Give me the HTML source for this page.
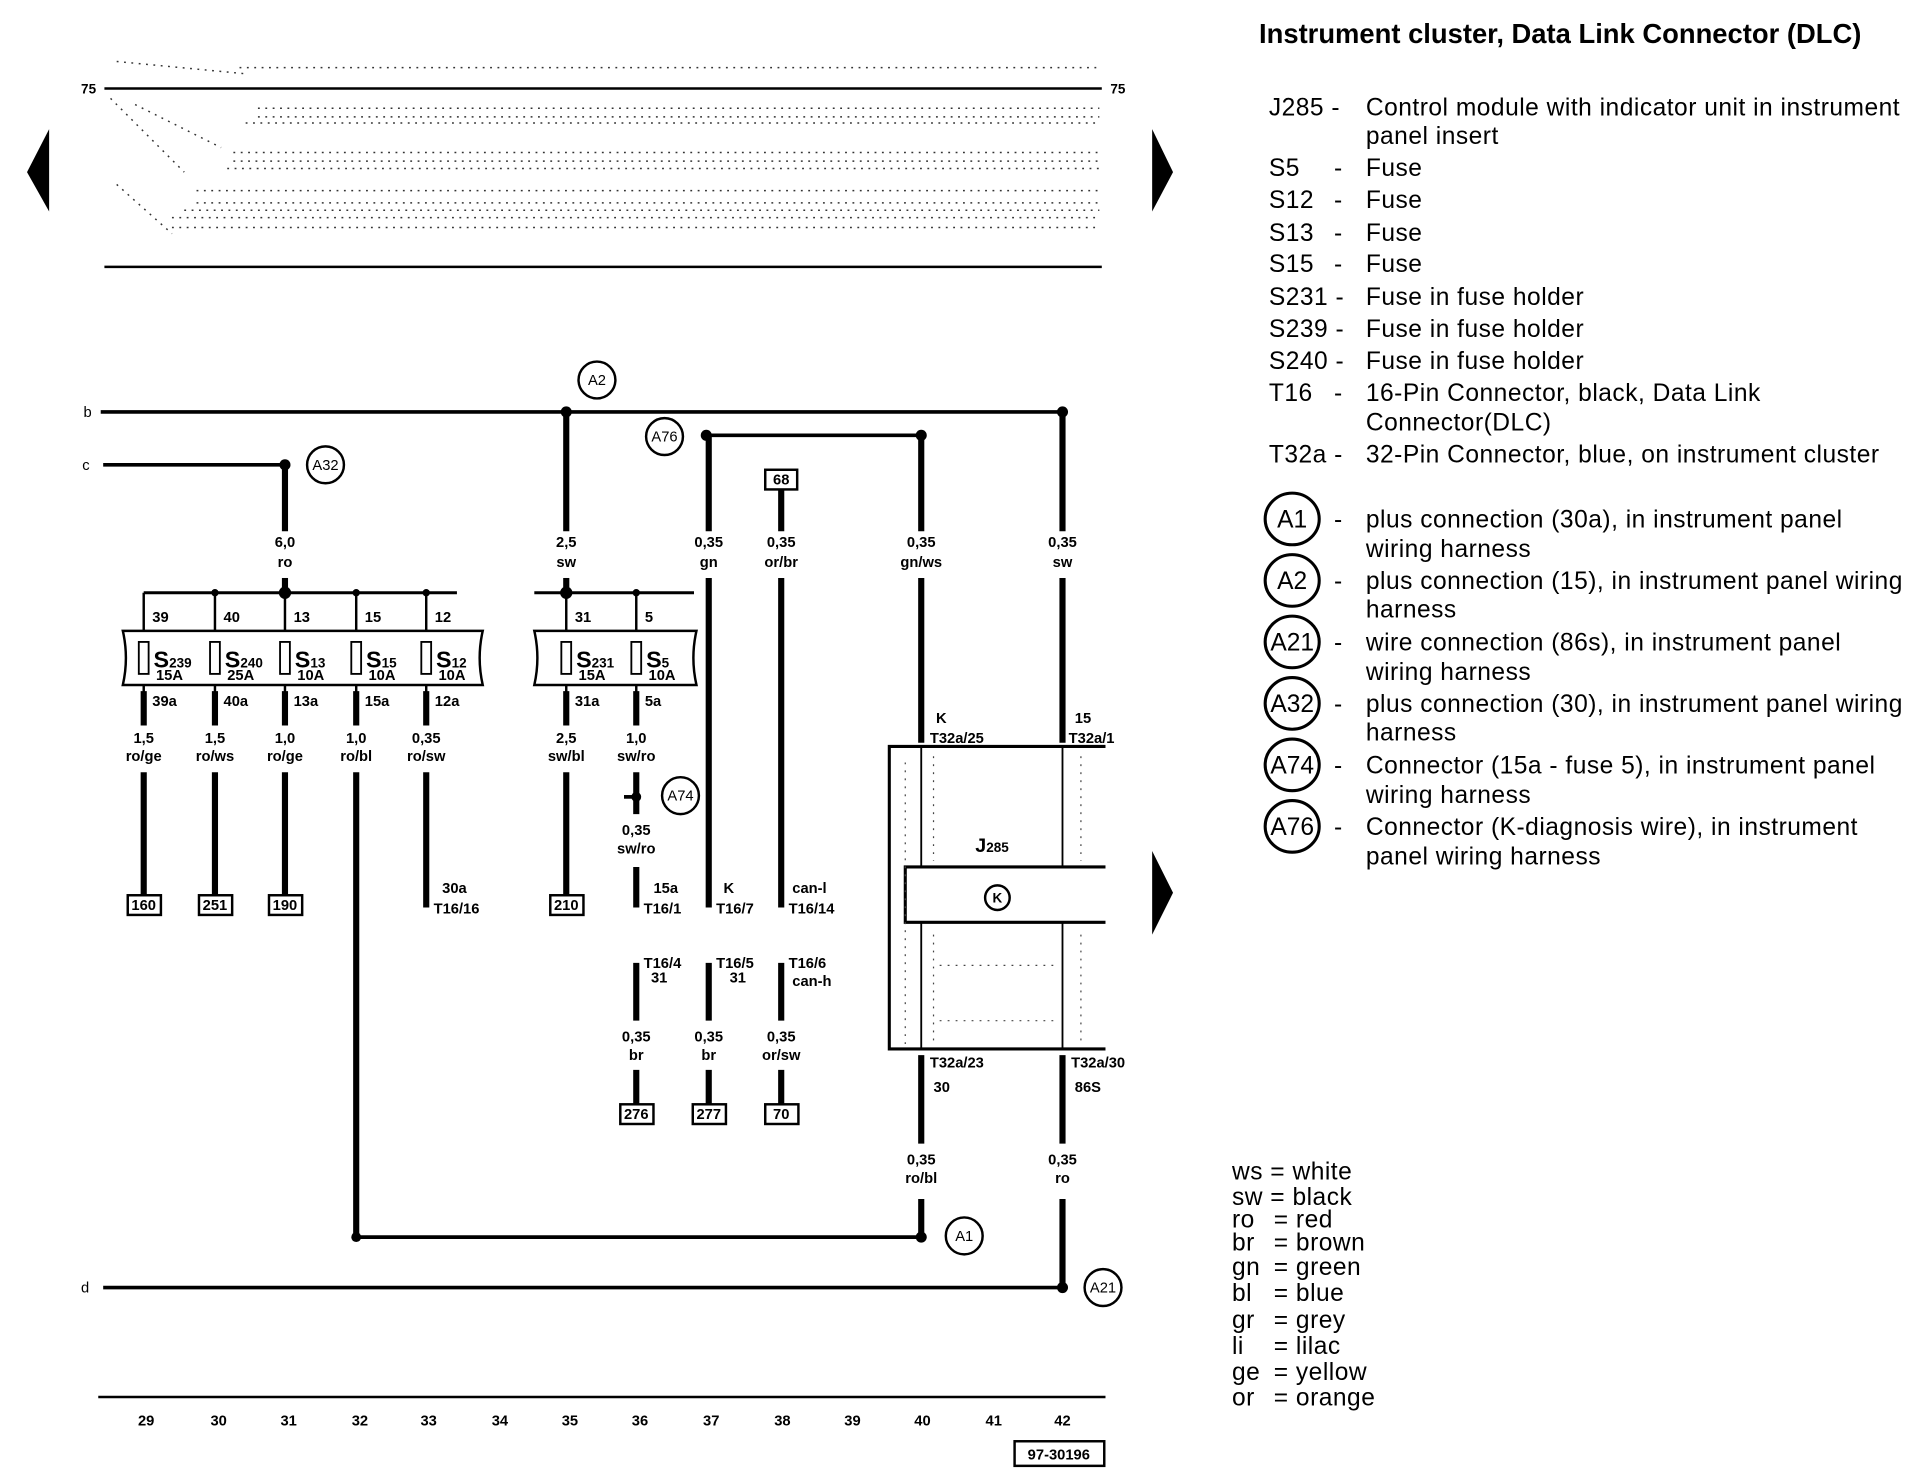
<!DOCTYPE html>
<html><head><meta charset="utf-8"><style>
html,body{margin:0;padding:0;background:#fff;}
svg{display:block;}
.t{font-family:"Liberation Sans",sans-serif;font-size:12px;font-weight:bold;fill:#000;}
.m{text-anchor:middle;}
.L{font-family:"Liberation Sans",sans-serif;font-size:20px;letter-spacing:0.4px;fill:#000;}
.C{font-family:"Liberation Sans",sans-serif;font-size:12px;fill:#000;text-anchor:middle;}
</style></head><body>
<svg width="1926" height="1472" viewBox="0 0 1568 1197" preserveAspectRatio="none" xmlns="http://www.w3.org/2000/svg">
<g stroke="#000" fill="none">
<line x1="85" y1="72" x2="897" y2="72" stroke-width="2"/>
<line x1="85" y1="217" x2="897" y2="217" stroke-width="2"/>
<g stroke-width="1.2" stroke-dasharray="1.5 4.5" stroke="#333">
<line x1="195" y1="55" x2="895" y2="55"/>
<line x1="210" y1="88" x2="895" y2="88"/>
<line x1="210" y1="95" x2="895" y2="95"/>
<line x1="200" y1="100" x2="895" y2="100"/>
<line x1="190" y1="124" x2="895" y2="124"/>
<line x1="190" y1="131" x2="895" y2="131"/>
<line x1="185" y1="137" x2="895" y2="137"/>
<line x1="160" y1="155" x2="895" y2="155"/>
<line x1="160" y1="165" x2="895" y2="165"/>
<line x1="150" y1="171" x2="895" y2="171"/>
<line x1="140" y1="177" x2="895" y2="177"/>
<line x1="140" y1="185" x2="895" y2="185"/>
<line x1="95" y1="50" x2="200" y2="60"/>
<line x1="90" y1="80" x2="150" y2="140"/>
<line x1="110" y1="85" x2="180" y2="120"/>
<line x1="95" y1="150" x2="140" y2="190"/>
</g>
<line x1="82" y1="335" x2="865" y2="335" stroke-width="3"/>
<line x1="84" y1="378" x2="232" y2="378" stroke-width="3"/>
<line x1="84" y1="1047" x2="865" y2="1047" stroke-width="3"/>
<line x1="575" y1="354" x2="750" y2="354" stroke-width="3"/>
<line x1="290" y1="1006" x2="750" y2="1006" stroke-width="3"/>
<line x1="117" y1="482" x2="372" y2="482" stroke-width="2.5"/>
<line x1="435" y1="482" x2="565" y2="482" stroke-width="2.5"/>
<g stroke-width="5">
<line x1="232" y1="378" x2="232" y2="432"/><line x1="232" y1="470" x2="232" y2="482"/>
<line x1="461" y1="335" x2="461" y2="432"/><line x1="461" y1="470" x2="461" y2="482"/>
<line x1="577" y1="354" x2="577" y2="432"/><line x1="577" y1="470" x2="577" y2="738"/>
<line x1="636" y1="398" x2="636" y2="432"/><line x1="636" y1="470" x2="636" y2="738"/>
<line x1="750" y1="354" x2="750" y2="432"/><line x1="750" y1="470" x2="750" y2="604"/>
<line x1="865" y1="335" x2="865" y2="432"/><line x1="865" y1="470" x2="865" y2="604"/>
<line x1="117" y1="562" x2="117" y2="590"/><line x1="117" y1="628" x2="117" y2="728"/>
<line x1="175" y1="562" x2="175" y2="590"/><line x1="175" y1="628" x2="175" y2="728"/>
<line x1="232" y1="562" x2="232" y2="590"/><line x1="232" y1="628" x2="232" y2="728"/>
<line x1="290" y1="562" x2="290" y2="590"/><line x1="290" y1="628" x2="290" y2="1006"/>
<line x1="347" y1="562" x2="347" y2="590"/><line x1="347" y1="628" x2="347" y2="738"/>
<line x1="461" y1="562" x2="461" y2="590"/><line x1="461" y1="628" x2="461" y2="728"/>
<line x1="518" y1="562" x2="518" y2="590"/><line x1="518" y1="628" x2="518" y2="662"/>
<line x1="518" y1="705" x2="518" y2="738"/>
<line x1="518" y1="783" x2="518" y2="830"/><line x1="518" y1="870" x2="518" y2="898"/>
<line x1="577" y1="783" x2="577" y2="830"/><line x1="577" y1="870" x2="577" y2="898"/>
<line x1="636" y1="783" x2="636" y2="830"/><line x1="636" y1="870" x2="636" y2="898"/>
<line x1="750" y1="858" x2="750" y2="930"/><line x1="750" y1="975" x2="750" y2="1006"/>
<line x1="865" y1="858" x2="865" y2="930"/><line x1="865" y1="975" x2="865" y2="1047"/>
</g>
<line x1="508" y1="648" x2="518" y2="648" stroke-width="3"/>
<g stroke-width="2">
<line x1="117" y1="482" x2="117" y2="513"/><line x1="175" y1="482" x2="175" y2="513"/>
<line x1="232" y1="482" x2="232" y2="513"/><line x1="290" y1="482" x2="290" y2="513"/>
<line x1="347" y1="482" x2="347" y2="513"/><line x1="461" y1="482" x2="461" y2="513"/>
<line x1="518" y1="482" x2="518" y2="513"/>
<line x1="117" y1="557" x2="117" y2="565"/><line x1="175" y1="557" x2="175" y2="565"/>
<line x1="232" y1="557" x2="232" y2="565"/><line x1="290" y1="557" x2="290" y2="565"/>
<line x1="347" y1="557" x2="347" y2="565"/><line x1="461" y1="557" x2="461" y2="565"/>
<line x1="518" y1="557" x2="518" y2="565"/>
</g>
<path d="M100 513 H393 Q388 535 393 557 H100 Q105 535 100 513 Z" stroke-width="2"/>
<path d="M435 513 H567 Q562 535 567 557 H435 Q440 535 435 513 Z" stroke-width="2"/>
<g stroke-width="1.5">
<rect x="113" y="522" width="8" height="26"/><rect x="171" y="522" width="8" height="26"/>
<rect x="228" y="522" width="8" height="26"/><rect x="286" y="522" width="8" height="26"/>
<rect x="343" y="522" width="8" height="26"/><rect x="457" y="522" width="8" height="26"/>
<rect x="514" y="522" width="8" height="26"/>
</g>
<path d="M900 607 H724 V853 H900" stroke-width="2.5"/>
<path d="M900 705 H737 V750 H900" stroke-width="2.5"/>
<line x1="750" y1="607" x2="750" y2="705" stroke-width="1.5"/><line x1="865" y1="607" x2="865" y2="705" stroke-width="1.5"/>
<line x1="750" y1="750" x2="750" y2="853" stroke-width="1.5"/><line x1="865" y1="750" x2="865" y2="853" stroke-width="1.5"/>
<circle cx="812" cy="730" r="10" stroke-width="2"/>
<g stroke-width="1" stroke-dasharray="1.5 5" stroke="#444">
<line x1="737" y1="620" x2="737" y2="850"/><line x1="760" y1="615" x2="760" y2="700"/>
<line x1="880" y1="615" x2="880" y2="700"/><line x1="765" y1="785" x2="860" y2="785"/>
<line x1="765" y1="830" x2="860" y2="830"/><line x1="880" y1="760" x2="880" y2="850"/>
<line x1="760" y1="760" x2="760" y2="850"/>
</g>
<g stroke-width="2" fill="#fff">
<rect x="104" y="728" width="27" height="16"/><rect x="162" y="728" width="27" height="16"/>
<rect x="219" y="728" width="27" height="16"/><rect x="448" y="728" width="27" height="16"/>
<rect x="623" y="382" width="26" height="16"/>
<rect x="505" y="898" width="27" height="16"/><rect x="564" y="898" width="27" height="16"/>
<rect x="623" y="898" width="27" height="16"/>
<rect x="826" y="1172" width="73" height="20"/>
</g>
<g stroke-width="2" fill="#fff">
<circle cx="486" cy="309" r="15"/><circle cx="265" cy="378" r="15"/>
<circle cx="541" cy="355" r="15"/><circle cx="554" cy="647" r="15"/>
<circle cx="785" cy="1005" r="15"/><circle cx="898" cy="1047" r="15"/>
</g>
<line x1="80" y1="1136" x2="900" y2="1136" stroke-width="2"/>
<g stroke-width="2.5">
<ellipse cx="1052" cy="422" rx="22" ry="21"/><ellipse cx="1052" cy="472" rx="22" ry="21"/>
<ellipse cx="1052" cy="522" rx="22" ry="21"/><ellipse cx="1052" cy="572" rx="22" ry="21"/>
<ellipse cx="1052" cy="622" rx="22" ry="21"/><ellipse cx="1052" cy="672" rx="22" ry="21"/>
</g>
</g>
<g fill="#000">
<circle cx="461" cy="335" r="4.5"/><circle cx="865" cy="335" r="4.5"/>
<circle cx="232" cy="378" r="4.5"/><circle cx="575" cy="354" r="4.5"/><circle cx="750" cy="354" r="4.5"/>
<circle cx="232" cy="482" r="5"/><circle cx="461" cy="482" r="5"/>
<circle cx="175" cy="482" r="3"/><circle cx="290" cy="482" r="3"/><circle cx="347" cy="482" r="3"/><circle cx="518" cy="482" r="3"/>
<circle cx="518" cy="648" r="4"/>
<circle cx="290" cy="1006" r="4"/><circle cx="750" cy="1006" r="4.5"/><circle cx="865" cy="1047" r="4.5"/>
<polygon points="22,140 40,105 40,172"/>
<polygon points="955,140 938,105 938,172"/>
<polygon points="955,726 938,692 938,760"/>
</g>
<g class="t">
<text x="66" y="76" font-size="11">75</text><text x="904" y="76" font-size="11">75</text>
<text x="68" y="339" font-weight="normal">b</text><text x="67" y="382" font-weight="normal">c</text><text x="66" y="1051" font-weight="normal">d</text>
</g>
<g class="C">
<text x="486" y="313">A2</text><text x="265" y="382">A32</text><text x="541" y="359">A76</text>
<text x="554" y="651">A74</text><text x="785" y="1009">A1</text><text x="898" y="1051">A21</text>
<text x="636" y="394" font-weight="bold">68</text>
<text x="117" y="740" font-weight="bold">160</text><text x="175" y="740" font-weight="bold">251</text>
<text x="232" y="740" font-weight="bold">190</text><text x="461" y="740" font-weight="bold">210</text>
<text x="518" y="910" font-weight="bold">276</text><text x="577" y="910" font-weight="bold">277</text>
<text x="636" y="910" font-weight="bold">70</text>
<text x="862" y="1187" font-weight="bold">97-30196</text>
<text x="812" y="734" font-weight="bold" font-size="11">K</text>
</g>
<g class="t m">
<text x="232" y="445">6,0</text><text x="232" y="461">ro</text>
<text x="461" y="445">2,5</text><text x="461" y="461">sw</text>
<text x="577" y="445">0,35</text><text x="577" y="461">gn</text>
<text x="636" y="445">0,35</text><text x="636" y="461">or/br</text>
<text x="750" y="445">0,35</text><text x="750" y="461">gn/ws</text>
<text x="865" y="445">0,35</text><text x="865" y="461">sw</text>
<text x="117" y="604">1,5</text><text x="117" y="619">ro/ge</text>
<text x="175" y="604">1,5</text><text x="175" y="619">ro/ws</text>
<text x="232" y="604">1,0</text><text x="232" y="619">ro/ge</text>
<text x="290" y="604">1,0</text><text x="290" y="619">ro/bl</text>
<text x="347" y="604">0,35</text><text x="347" y="619">ro/sw</text>
<text x="461" y="604">2,5</text><text x="461" y="619">sw/bl</text>
<text x="518" y="604">1,0</text><text x="518" y="619">sw/ro</text>
<text x="518" y="679">0,35</text><text x="518" y="694">sw/ro</text>
<text x="518" y="847">0,35</text><text x="518" y="862">br</text>
<text x="577" y="847">0,35</text><text x="577" y="862">br</text>
<text x="636" y="847">0,35</text><text x="636" y="862">or/sw</text>
<text x="750" y="947">0,35</text><text x="750" y="962">ro/bl</text>
<text x="865" y="947">0,35</text><text x="865" y="962">ro</text>
</g>
<g class="t">
<text x="124" y="506">39</text><text x="182" y="506">40</text><text x="239" y="506">13</text><text x="297" y="506">15</text><text x="354" y="506">12</text>
<text x="468" y="506">31</text><text x="525" y="506">5</text>
<text x="124" y="574">39a</text><text x="182" y="574">40a</text><text x="239" y="574">13a</text><text x="297" y="574">15a</text><text x="354" y="574">12a</text>
<text x="468" y="574">31a</text><text x="525" y="574">5a</text>
<g font-size="19"><text x="125" y="543">S<tspan font-size="11">239</tspan></text><text x="183" y="543">S<tspan font-size="11">240</tspan></text>
<text x="240" y="543">S<tspan font-size="11">13</tspan></text><text x="298" y="543">S<tspan font-size="11">15</tspan></text>
<text x="355" y="543">S<tspan font-size="11">12</tspan></text><text x="469" y="543">S<tspan font-size="11">231</tspan></text>
<text x="526" y="543">S<tspan font-size="11">5</tspan></text></g>
<text x="127" y="553">15A</text><text x="185" y="553">25A</text><text x="242" y="553">10A</text><text x="300" y="553">10A</text><text x="357" y="553">10A</text>
<text x="471" y="553">15A</text><text x="528" y="553">10A</text>
<text x="360" y="726">30a</text><text x="353" y="743">T16/16</text>
<text x="532" y="726">15a</text><text x="524" y="743">T16/1</text>
<text x="589" y="726">K</text><text x="583" y="743">T16/7</text>
<text x="645" y="726">can-l</text><text x="642" y="743">T16/14</text>
<text x="524" y="787">T16/4</text><text x="530" y="799">31</text>
<text x="583" y="787">T16/5</text><text x="594" y="799">31</text>
<text x="642" y="787">T16/6</text><text x="645" y="802">can-h</text>
<text x="762" y="588">K</text><text x="757" y="604">T32a/25</text>
<text x="875" y="588">15</text><text x="870" y="604">T32a/1</text>
<text x="794" y="693" font-size="16">J<tspan font-size="11">285</tspan></text>
<text x="757" y="868">T32a/23</text><text x="760" y="888">30</text>
<text x="872" y="868">T32a/30</text><text x="875" y="888">86S</text>
</g>
<g class="t m" font-weight="bold">
<text x="119" y="1159">29</text><text x="178" y="1159">30</text><text x="235" y="1159">31</text><text x="293" y="1159">32</text>
<text x="349" y="1159">33</text><text x="407" y="1159">34</text><text x="464" y="1159">35</text><text x="521" y="1159">36</text>
<text x="579" y="1159">37</text><text x="637" y="1159">38</text><text x="694" y="1159">39</text><text x="751" y="1159">40</text>
<text x="809" y="1159">41</text><text x="865" y="1159">42</text>
</g>
<text x="1025" y="35" font-family="Liberation Sans,sans-serif" font-size="22.3" font-weight="bold">Instrument cluster, Data Link Connector (DLC)</text>
<g class="L">
<text x="1033" y="94">J285 -</text><text x="1112" y="94">Control module with indicator unit in instrument</text>
<text x="1112" y="117">panel insert</text>
<text x="1033" y="143">S5</text><text x="1086" y="143">-</text><text x="1112" y="143">Fuse</text>
<text x="1033" y="169">S12</text><text x="1086" y="169">-</text><text x="1112" y="169">Fuse</text>
<text x="1033" y="196">S13</text><text x="1086" y="196">-</text><text x="1112" y="196">Fuse</text>
<text x="1033" y="221">S15</text><text x="1086" y="221">-</text><text x="1112" y="221">Fuse</text>
<text x="1033" y="248">S231 -</text><text x="1112" y="248">Fuse in fuse holder</text>
<text x="1033" y="274">S239 -</text><text x="1112" y="274">Fuse in fuse holder</text>
<text x="1033" y="300">S240 -</text><text x="1112" y="300">Fuse in fuse holder</text>
<text x="1033" y="326">T16</text><text x="1086" y="326">-</text><text x="1112" y="326">16-Pin Connector, black, Data Link</text>
<text x="1112" y="350">Connector(DLC)</text>
<text x="1033" y="376">T32a -</text><text x="1112" y="376">32-Pin Connector, blue, on instrument cluster</text>
<text x="1052" y="429" text-anchor="middle" letter-spacing="0">A1</text><text x="1086" y="429">-</text><text x="1112" y="429">plus connection (30a), in instrument panel</text><text x="1112" y="453">wiring harness</text>
<text x="1052" y="479" text-anchor="middle" letter-spacing="0">A2</text><text x="1086" y="479">-</text><text x="1112" y="479">plus connection (15), in instrument panel wiring</text><text x="1112" y="502">harness</text>
<text x="1052" y="529" text-anchor="middle" letter-spacing="0">A21</text><text x="1086" y="529">-</text><text x="1112" y="529">wire connection (86s), in instrument panel</text><text x="1112" y="553">wiring harness</text>
<text x="1052" y="579" text-anchor="middle" letter-spacing="0">A32</text><text x="1086" y="579">-</text><text x="1112" y="579">plus connection (30), in instrument panel wiring</text><text x="1112" y="602">harness</text>
<text x="1052" y="629" text-anchor="middle" letter-spacing="0">A74</text><text x="1086" y="629">-</text><text x="1112" y="629">Connector (15a - fuse 5), in instrument panel</text><text x="1112" y="653">wiring harness</text>
<text x="1052" y="679" text-anchor="middle" letter-spacing="0">A76</text><text x="1086" y="679">-</text><text x="1112" y="679">Connector (K-diagnosis wire), in instrument</text><text x="1112" y="703">panel wiring harness</text>
</g>
<g class="L" font-size="18" letter-spacing="0">
<text x="1003" y="959">ws = white</text><text x="1003" y="980">sw = black</text><text x="1003" y="998">ro</text><text x="1037" y="998">= red</text>
<text x="1003" y="1017">br</text><text x="1037" y="1017">= brown</text><text x="1003" y="1037">gn</text><text x="1037" y="1037">= green</text>
<text x="1003" y="1058">bl</text><text x="1037" y="1058">= blue</text><text x="1003" y="1080">gr</text><text x="1037" y="1080">= grey</text>
<text x="1003" y="1101">li</text><text x="1037" y="1101">= lilac</text><text x="1003" y="1122">ge</text><text x="1037" y="1122">= yellow</text>
<text x="1003" y="1143">or</text><text x="1037" y="1143">= orange</text>
</g>
</svg>
</body></html>
